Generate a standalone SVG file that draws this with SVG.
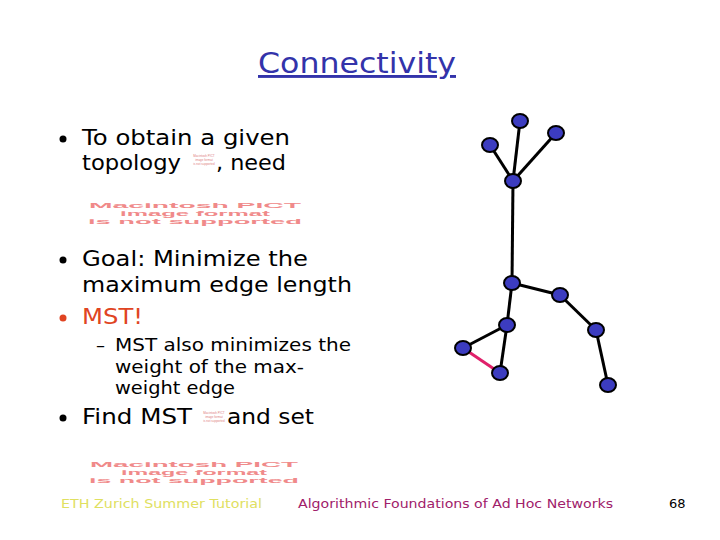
<svg xmlns="http://www.w3.org/2000/svg" width="720" height="540" viewBox="0 0 720 540">
<style>
.t{font-family:"DejaVu Sans",Verdana,sans-serif;fill:#000}
.b{font-size:22px}
.s{font-size:18px}
.pict{font-family:"Liberation Sans",Arial,sans-serif;font-weight:bold;fill:#f08a8a;font-size:8px}
.tiny{font-family:"Liberation Sans",Arial,sans-serif;fill:#e08080;font-size:3px}
.node{fill:#3c3cc0;stroke:#000;stroke-width:2}
.e{stroke:#000;stroke-width:3;fill:none}
.foot{font-family:"DejaVu Sans",Verdana,sans-serif;font-size:13px}
</style>
<rect width="720" height="540" fill="#fff"/>
<text class="t" x="258" y="73" font-size="29" style="fill:#3333aa" text-decoration="underline" textLength="198" lengthAdjust="spacingAndGlyphs">Connectivity</text>
<g id="text">
<circle cx="63" cy="139" r="3.5" fill="#000"/>
<text class="t b" x="82" y="145" textLength="208" lengthAdjust="spacingAndGlyphs">To obtain a given</text>
<text class="t b" x="82" y="170" textLength="99" lengthAdjust="spacingAndGlyphs">topology</text>
<text class="t b" x="216" y="170" textLength="70" lengthAdjust="spacingAndGlyphs">, need</text>
<g id="pict-small-1">
<text class="tiny" x="204" y="157" text-anchor="middle">Macintosh PICT</text>
<text class="tiny" x="204" y="161" text-anchor="middle">image format</text>
<text class="tiny" x="204" y="165" text-anchor="middle">is not supported</text>
</g>
<g id="pict-big-1">
<text class="pict" x="195" y="208" text-anchor="middle" textLength="212" lengthAdjust="spacingAndGlyphs">Macintosh PICT</text>
<text class="pict" x="195" y="216" text-anchor="middle" textLength="150" lengthAdjust="spacingAndGlyphs">image format</text>
<text class="pict" x="195" y="224" text-anchor="middle" textLength="214" lengthAdjust="spacingAndGlyphs">is not supported</text>
</g>
<circle cx="63" cy="260" r="3.5" fill="#000"/>
<text class="t b" x="82" y="266" textLength="226" lengthAdjust="spacingAndGlyphs">Goal: Minimize the</text>
<text class="t b" x="82" y="292" textLength="270" lengthAdjust="spacingAndGlyphs">maximum edge length</text>
<circle cx="63" cy="318" r="3.5" fill="#e04422"/>
<text class="t b" x="82" y="324" style="fill:#e04422" textLength="61" lengthAdjust="spacingAndGlyphs">MST!</text>
<text class="t s" x="96" y="351">–</text>
<text class="t s" x="115" y="351" textLength="236" lengthAdjust="spacingAndGlyphs">MST also minimizes the</text>
<text class="t s" x="115" y="373" textLength="189" lengthAdjust="spacingAndGlyphs">weight of the max-</text>
<text class="t s" x="115" y="394" textLength="120" lengthAdjust="spacingAndGlyphs">weight edge</text>
<circle cx="63" cy="418" r="3.5" fill="#000"/>
<text class="t b" x="82" y="424" textLength="110" lengthAdjust="spacingAndGlyphs">Find MST</text>
<text class="t b" x="227" y="424" textLength="87" lengthAdjust="spacingAndGlyphs">and set</text>
<g id="pict-small-2">
<text class="tiny" x="214" y="414" text-anchor="middle">Macintosh PICT</text>
<text class="tiny" x="214" y="418" text-anchor="middle">image format</text>
<text class="tiny" x="214" y="422" text-anchor="middle">is not supported</text>
</g>
<g id="pict-big-2">
<text class="pict" x="194" y="467" text-anchor="middle" textLength="208" lengthAdjust="spacingAndGlyphs">Macintosh PICT</text>
<text class="pict" x="194" y="475" text-anchor="middle" textLength="146" lengthAdjust="spacingAndGlyphs">image format</text>
<text class="pict" x="194" y="483" text-anchor="middle" textLength="210" lengthAdjust="spacingAndGlyphs">is not supported</text>
</g>
</g>
<g id="connectors">
<line class="e" x1="520" y1="121" x2="513" y2="181"/>
<line class="e" x1="556" y1="133" x2="513" y2="181"/>
<line class="e" x1="490" y1="145" x2="513" y2="181"/>
<line class="e" x1="513" y1="181" x2="512" y2="283"/>
<line class="e" x1="512" y1="283" x2="560" y2="295"/>
<line class="e" x1="560" y1="295" x2="596" y2="330"/>
<line class="e" x1="596" y1="330" x2="608" y2="385"/>
<line class="e" x1="512" y1="283" x2="507" y2="325"/>
<line class="e" x1="507" y1="325" x2="463" y2="348"/>
<line class="e" x1="507" y1="325" x2="500" y2="373"/>
<line x1="463" y1="348" x2="500" y2="373" stroke="#e0206a" stroke-width="3"/>
</g>
<g id="n1"><ellipse class="node" cx="520" cy="121" rx="8" ry="7"/></g>
<g id="n2"><ellipse class="node" cx="556" cy="133" rx="8" ry="7"/></g>
<g id="n3"><ellipse class="node" cx="490" cy="145" rx="8" ry="7"/></g>
<g id="n4"><ellipse class="node" cx="513" cy="181" rx="8" ry="7"/></g>
<g id="n5"><ellipse class="node" cx="512" cy="283" rx="8" ry="7"/></g>
<g id="n6"><ellipse class="node" cx="560" cy="295" rx="8" ry="7"/></g>
<g id="n7"><ellipse class="node" cx="507" cy="325" rx="8" ry="7"/></g>
<g id="n8"><ellipse class="node" cx="596" cy="330" rx="8" ry="7"/></g>
<g id="n9"><ellipse class="node" cx="463" cy="348" rx="8" ry="7"/></g>
<g id="n10"><ellipse class="node" cx="500" cy="373" rx="8" ry="7"/></g>
<g id="n11"><ellipse class="node" cx="608" cy="385" rx="8" ry="7"/></g>
<g id="footer">
<text class="foot" x="61" y="508" fill="#e0e060" textLength="201" lengthAdjust="spacingAndGlyphs">ETH Zurich Summer Tutorial</text>
<text class="foot" x="298" y="508" fill="#a0206a" textLength="315" lengthAdjust="spacingAndGlyphs">Algorithmic Foundations of Ad Hoc Networks</text>
<text class="foot" x="669" y="508" fill="#000" font-size="12">68</text>
</g>
</svg>
